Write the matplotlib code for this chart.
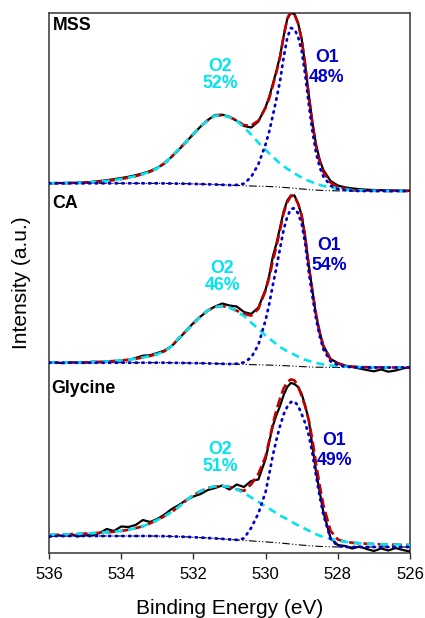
import matplotlib
matplotlib.use("Agg")
import matplotlib.pyplot as plt
import numpy as np

plt.rcParams['font.family'] = ['Liberation Sans', 'DejaVu Sans']

# Binding energy grid (eV)
energy = [536.0, 535.8, 535.6, 535.4, 535.2, 535.0, 534.8, 534.6, 534.4, 534.2,
          534.0, 533.8, 533.6, 533.4, 533.2, 533.0, 532.8, 532.6, 532.4, 532.2,
          532.0, 531.8, 531.6, 531.4, 531.2, 531.0, 530.8, 530.6, 530.4, 530.2,
          530.0, 529.9, 529.8, 529.7, 529.6, 529.5, 529.4, 529.3, 529.2, 529.1,
          529.0, 528.9, 528.8, 528.7, 528.6, 528.5, 528.4,
          528.2, 528.0, 527.8, 527.6, 527.4, 527.2, 527.0, 526.8, 526.6, 526.4,
          526.2, 526.0]

# ---- MSS ----
mss_bg = ([7.7]*16 + [7.6, 7.5, 7.4, 7.3, 7.1, 6.9, 6.7, 6.5, 6.2, 5.9, 5.6, 5.3, 5.0, 4.8]
          + [4.6, 4.45, 4.3, 4.1, 3.9, 3.6, 3.3, 3.0, 2.7, 2.35, 2.0, 1.7, 1.4, 1.15, 0.9, 0.7, 0.5]
          + [0.3, 0.15, 0.05] + [0.0]*9)
mss_o2 = ([0, 0.1, 0.2, 0.3, 0.4, 0.6, 1.0, 1.6, 2.3, 3.2, 4.3, 5.6, 7.2, 9.2, 11.6,
           15.0, 20.0, 27.0, 34.5, 42.0, 50.0, 57.5, 64.0, 68.8, 69.5, 68.0, 64.5, 58.5, 51.5, 43.5]
          + [36.5, 33.2, 30.0, 26.7, 23.5, 21.2, 19.0, 16.9, 14.8, 13.1, 11.5, 10.1, 8.7, 7.5, 6.3, 5.4, 4.5]
          + [3.1, 2.0, 1.4, 0.9, 0.6, 0.4, 0.2, 0.1, 0, 0, 0, 0])
mss_o1 = ([0]*26 + [0.5, 2.0, 9.0, 22.0]
          + [42, 55, 71, 88, 106, 130, 150, 160, 159, 152, 138, 114, 84, 58, 37, 23, 14]
          + [5.0, 2.0, 0.8, 0.3] + [0]*8)
mss_data = ([7.8, 8.0, 7.9, 8.1, 8.3, 8.6, 9.2, 9.9, 10.8, 11.8, 13.0, 14.2, 15.8, 17.6, 20.0,
             23.2, 27.8, 34.3, 41.5, 49.0, 57.0, 64.5, 71.0, 76.0, 76.3, 74.2, 70.2, 65.0, 63.5, 69.5]
            + [84, 94, 107, 120, 135, 155, 172, 178, 177, 168, 152, 125, 95, 68, 46, 31, 21]
            + [10.0, 5.5, 3.6, 2.6, 1.8, 1.3, 1.0, 0.8, 0.6, 0.5, 0.4, 0.3])

# ---- CA ----
ca_bg = ([4.8]*17 + [4.7, 4.6, 4.5, 4.4, 4.3, 4.1, 3.9, 3.7, 3.5, 3.3, 3.1, 2.9, 2.7]
         + [2.5, 2.4, 2.3, 2.15, 2.0, 1.85, 1.7, 1.5, 1.3, 1.1, 0.9, 0.75, 0.6, 0.47, 0.35, 0.27, 0.2]
         + [0.1, 0.05] + [0.0]*10)
ca_o2 = ([0, 0, 0, 0.1, 0.2, 0.3, 0.5, 0.8, 1.2, 1.7, 2.3, 3.0, 3.9, 5.2, 6.8,
          8.6, 11.5, 16.5, 25.0, 32.0, 39.5, 47.0, 53.0, 56.5, 57.8, 56.5, 53.0, 48.5, 42.0, 36.0]
         + [29.5, 26.7, 24.0, 21.2, 18.5, 16.5, 14.5, 13.0, 11.5, 9.7, 8.0, 7.0, 6.0, 5.1, 4.2, 3.5, 2.8]
         + [2.0, 1.3, 0.9, 0.6, 0.4, 0.3, 0.2, 0.1, 0.1, 0, 0, 0])
ca_o1 = ([0]*26 + [0.5, 2.0, 7.0, 20.0]
         + [45, 61, 80, 98, 117, 136, 149, 157, 158, 153, 143, 122, 94, 70, 48, 31, 18]
         + [6.0, 2.5, 1.0, 0.4] + [0]*8)
ca_data = ([4.6, 4.9, 4.3, 5.2, 5.0, 4.8, 5.8, 5.4, 6.3, 6.0, 7.3, 7.4, 9.6, 11.8, 12.3,
            14.5, 17.0, 21.5, 28.8, 36.8, 44.5, 51.0, 57.0, 61.0, 64.0, 62.0, 61.0, 55.5, 53.5, 60.0]
           + [78, 92, 111, 124, 140, 156, 167, 172, 172, 164, 152, 130, 101, 76, 52, 35, 22]
           + [8.5, 4.5, 2.0, 0.5, -1.0, -2.5, -3.8, -2.0, -4.2, -3.0, -1.0, 0.5])

# ---- Glycine ----
gly_bg = ([11.0]*15 + [10.9, 10.8, 10.6, 10.4, 10.1, 9.8, 9.4, 9.0, 8.6, 8.1, 7.6, 7.1, 6.6, 6.1, 5.6]
          + [5.1, 4.85, 4.6, 4.3, 4.0, 3.65, 3.3, 2.95, 2.6, 2.25, 1.9, 1.6, 1.3, 1.05, 0.8, 0.6, 0.4]
          + [0.15, 0.05] + [0.0]*10)
gly_o2 = ([1.0, 1.2, 1.5, 1.8, 2.1, 2.4, 2.8, 3.2, 3.7, 4.2, 5.0, 6.2, 7.8, 9.8, 12.7,
           16.0, 20.0, 24.5, 30.0, 36.5, 42.0, 46.5, 50.0, 52.0, 52.8, 52.5, 50.5, 47.5, 43.5, 39.5]
          + [35.5, 33.5, 31.5, 29.5, 27.5, 26.0, 24.5, 22.7, 21.0, 19.5, 18.0, 16.5, 15.0, 13.5, 12.0, 10.7, 9.5]
          + [8.0, 6.5, 5.2, 4.3, 3.7, 3.3, 3.0, 2.7, 2.5, 2.3, 2.1, 2.0])
gly_o1 = ([0]*27 + [2.0, 13.0, 28.0]
          + [50, 68, 87, 103, 117, 129, 137, 142, 143, 139, 131, 122, 110, 92, 70, 50, 32]
          + [8.0, 1.0] + [0]*10)
gly_data = ([10.0, 12.0, 11.0, 13.0, 10.5, 12.5, 11.5, 14.0, 18.0, 16.0, 20.5, 20.0, 22.0, 27.0, 25.0,
             28.0, 32.5, 38.0, 42.0, 47.0, 50.5, 53.0, 57.0, 59.0, 61.5, 57.5, 62.5, 60.0, 66.0, 67.5]
            + [88, 105, 121, 132, 141, 152, 160, 164, 163, 160, 153, 141, 126, 100, 75, 55, 35]
            + [9.0, 2.0, 1.0, -1.5, 0.5, -2.0, -4.0, -1.5, -3.5, -1.0, -3.0, -4.5])

samples = ["MSS", "CA", "Glycine"]
o1_labels = ["O1\n48%", "O1\n54%", "O1\n49%"]
o2_labels = ["O2\n52%", "O2\n46%", "O2\n51%"]

panels = [
    (mss_bg, mss_o1, mss_o2, mss_data),
    (ca_bg, ca_o1, ca_o2, ca_data),
    (gly_bg, gly_o1, gly_o2, gly_data),
]

# layout (vertical offsets of the stacked spectra, in plot units)
offsets = [362.3, 185.8, 6.3]
name_pos = [(535.9, 528.0), (535.92, 349.3), (535.95, 165.0)]
o1_pos = [(528.3, 486.0), (528.25, 298.0), (528.1, 103.0)]
o2_pos = [(531.25, 478.0), (531.2, 276.0), (531.25, 95.0)]

RED = '#C00000'
BLUE = '#0000CC'
CYAN = '#00E5EE'

fig = plt.figure(figsize=(4.25, 6.18), dpi=100)
ax = fig.add_axes([49/425, 1 - 553.3/618, 361/425, (553.3 - 13)/618])

E = np.array(energy)
for (bg, o1, o2, data), off in zip(panels, offsets):
    bg = np.array(bg); o1 = np.array(o1); o2 = np.array(o2); data = np.array(data)
    env = bg + o1 + o2
    ax.plot(E, bg + off, color='black', lw=0.8, dashes=(7, 2, 1, 2, 1, 2), zorder=2)
    ax.plot(E, data + off, color='black', lw=1.6, zorder=3)
    ax.plot(E, env + off, color=RED, lw=1.9, dashes=(3.8, 1.6), zorder=4)
    ax.plot(E, bg + o2 + off, color=CYAN, lw=1.9, dashes=(3.0, 2.0), zorder=5)
    ax.plot(E, bg + o1 + off, color=BLUE, lw=2.0, dashes=(0.5, 1.9),
            dash_capstyle='round', zorder=6)

for name, (x, y) in zip(samples, name_pos):
    ax.text(x, y, name, ha='left', va='center', fontsize=12.8,
            fontweight='bold', color='black')
for lab, (x, y) in zip(o1_labels, o1_pos):
    ax.text(x, y, lab, ha='center', va='center', fontsize=12.8,
            fontweight='bold', color=BLUE, linespacing=1.25)
for lab, (x, y) in zip(o2_labels, o2_pos):
    ax.text(x, y, lab, ha='center', va='center', fontsize=12.8,
            fontweight='bold', color=CYAN, linespacing=1.0)

ax.set_xlim(536, 526)
ax.set_ylim(0, 540.3)
ax.set_xticks([536, 534, 532, 530, 528, 526])
ax.set_yticks([])
ax.tick_params(axis='x', direction='out', length=4, width=1, labelsize=12, pad=6,
               color='#333333')
for s in ax.spines.values():
    s.set_color('#444444')
    s.set_linewidth(1.2)
ax.set_xlabel('Binding Energy (eV)', fontsize=15, labelpad=12)
ax.set_ylabel('Intensity (a.u.)', fontsize=15, labelpad=13)

fig.savefig('out.png', dpi=100)
